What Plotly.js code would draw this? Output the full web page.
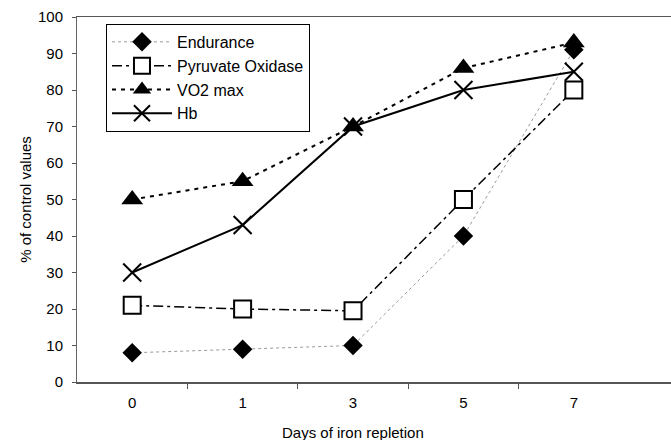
<!DOCTYPE html>
<html>
<head>
<meta charset="utf-8">
<script src="https://cdn.plot.ly/plotly-3.0.1.min.js"></script>
<style>html,body{margin:0;padding:0;background:#fff;}#chart{width:671px;height:440px;}</style>
</head>
<body>
<div id="chart"></div>
<script>
var days = ["0", "1", "3", "5", "7"];
var endurance = [8, 9, 10, 40, 91];
var pyruvateOxidase = [21, 20, 19.5, 50, 80];
var vo2max = [50, 55, 70, 86, 93];
var hb = [30, 43, 70, 80, 85];
var yTicks = [0, 10, 20, 30, 40, 50, 60, 70, 80, 90, 100];

var idx = days.map(function (d, i) { return i; });
var font = "Liberation Sans, Arial, Helvetica, sans-serif";

var traces = [
  {
    name: "Endurance", x: idx, y: endurance, mode: "lines+markers", legendgroup: "a",
    line: {color: "#9a9a9a", width: 1, dash: "dot"},
    marker: {symbol: "diamond", size: 15, color: "#000"}
  },
  {
    name: "Pyruvate Oxidase", x: idx, y: pyruvateOxidase, mode: "lines+markers", legendgroup: "b",
    line: {color: "#000", width: 1.5, dash: "10px,4px,3px,4px"},
    marker: {symbol: "square", size: 17, color: "#fff", line: {color: "#000", width: 2}}
  },
  {
    name: "VO2 max", x: idx, y: vo2max, mode: "lines+markers", legendgroup: "c",
    line: {color: "#000", width: 2, dash: "4px,5px"},
    marker: {symbol: "triangle-up", size: 19, color: "#000"}
  },
  {
    name: "Hb", x: idx, y: hb, mode: "lines+markers", legendgroup: "d",
    line: {color: "#000", width: 2},
    marker: {symbol: "x-thin-open", size: 18, color: "#000", line: {color: "#000", width: 2}}
  }
];

var layout = {
  width: 671, height: 440,
  margin: {l: 77, r: 0, t: 17, b: 58, pad: 0},
  paper_bgcolor: "#fff", plot_bgcolor: "#fff",
  font: {family: font, size: 15, color: "#000"},
  showlegend: true,
  legend: {
    x: 0.0488, y: 0.981, xanchor: "left", yanchor: "top",
    bgcolor: "#fff", bordercolor: "#000", borderwidth: 1,
    font: {family: font, size: 16, color: "#000"},
    itemwidth: 60, tracegroupgap: 0
  },
  xaxis: {
    range: [-0.5, 4.88],
    tickmode: "array", tickvals: idx, ticktext: days,
    ticks: "", ticklabelstandoff: 6,
    minor: {tickmode: "array", tickvals: [0.5, 1.5, 2.5, 3.5], ticks: "outside", ticklen: 5, tickcolor: "#555", tickwidth: 1},
    showline: true, linecolor: "#555", linewidth: 1.5, mirror: true,
    showgrid: false, zeroline: false, fixedrange: true
  },
  yaxis: {
    range: [0, 100],
    tickmode: "array", tickvals: yTicks,
    ticks: "outside", ticklen: 4, tickcolor: "#555", tickwidth: 1, ticklabelstandoff: 6,
    showline: true, linecolor: "#666", linewidth: 1,
    showgrid: false, zeroline: false, fixedrange: true,
    title: {text: "% of control values", font: {family: font, size: 15}, standoff: 2}
  },
  annotations: [
    {text: "Days of iron repletion", xref: "x", yref: "paper", x: 2, y: 0, yshift: -50,
     showarrow: false, font: {family: font, size: 15, color: "#000"}, xanchor: "center", yanchor: "middle"}
  ]
};

Plotly.newPlot("chart", traces, layout, {staticPlot: true, displayModeBar: false});
</script>
</body>
</html>
